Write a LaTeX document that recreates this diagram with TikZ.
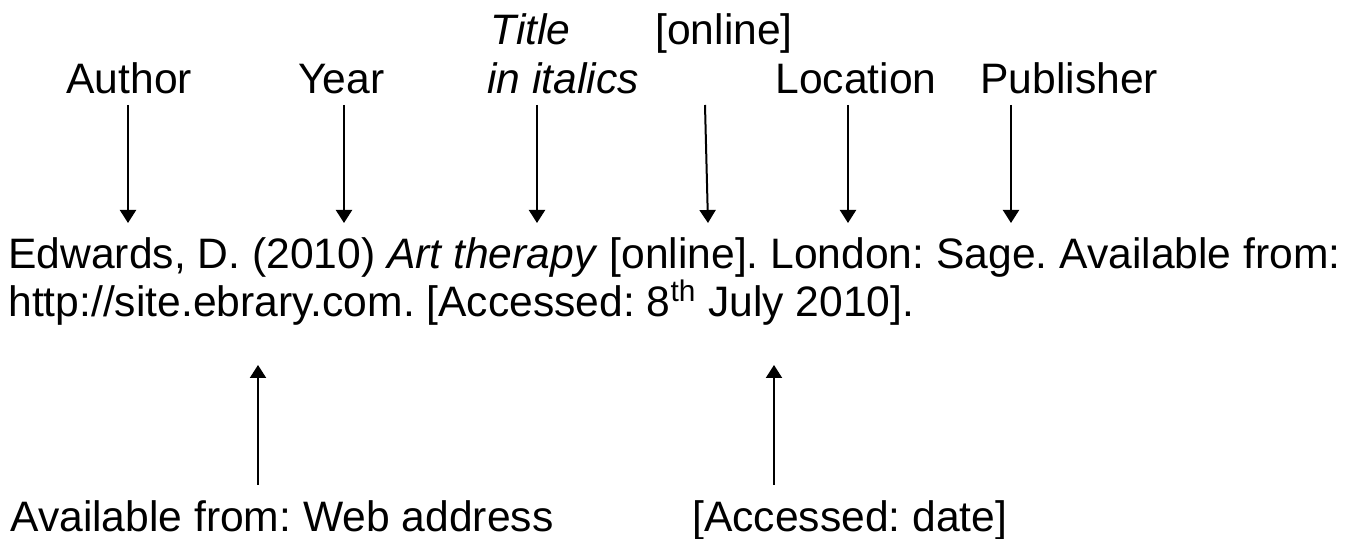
\documentclass[tikz,border=0pt]{standalone}
\usepackage{fontspec}
\setmainfont{Liberation Sans}
\usetikzlibrary{arrows.meta, positioning}

\tikzset{
  word/.style={font=\fontsize{21.3}{25}\selectfont\frenchspacing, inner sep=0pt, anchor=base west},
  pointer/.style={line width=1pt, -{Triangle[width=8pt, length=6.5pt]}}
}

\begin{document}
\begin{tikzpicture}[x=0.5pt, y=-0.5pt]
    \useasboundingbox (0,0) rectangle (1351,539);

    % parts of the reference
    \node[word] (author) at (66,94) {Author};
    \node[word] (year) at (298,94) {Year};
    \node[word] (title) at (490,45) {\itshape Title};
    \node[word] (italics) at (487,94) {\itshape in italics};
    \node[word] (online) at (655,45) {[online]};
    \node[word] (location) at (775,94) {Location};
    \node[word] (publisher) at (980,94) {Publisher};

    % the reference itself
    \node[word] (line1) at (8,269) {Edwards, D. (2010) \textit{Art therapy} [online]. London: Sage. Available from:};
    \node[word] (line2) at (8,317) {http://site.ebrary.com. [Accessed: 8\textsuperscript{th} July 2010].};

    \node[word] (web) at (10,532) {Available from: Web address};
    \node[word] (accessed) at (692,532) {[Accessed: date]};

    % arrows down to the reference
    \foreach \name/\xa/\xb in {author/128/128, year/344/344, title/537/537,
                               online/705/708, location/848/848, publisher/1011/1011} {
        \coordinate (\name-top) at (\xa,105);
        \coordinate (\name-tip) at (\xb,223);
        \draw[pointer] (\name-top) -- (\name-tip);
    }

    % arrows up to the reference
    \coordinate (web-foot) at (258,485);
    \coordinate (web-tip) at (258,365);
    \coordinate (accessed-foot) at (774,485);
    \coordinate (accessed-tip) at (774,365);
    \draw[pointer] (web-foot) -- (web-tip);
    \draw[pointer] (accessed-foot) -- (accessed-tip);

\end{tikzpicture}
\end{document}
